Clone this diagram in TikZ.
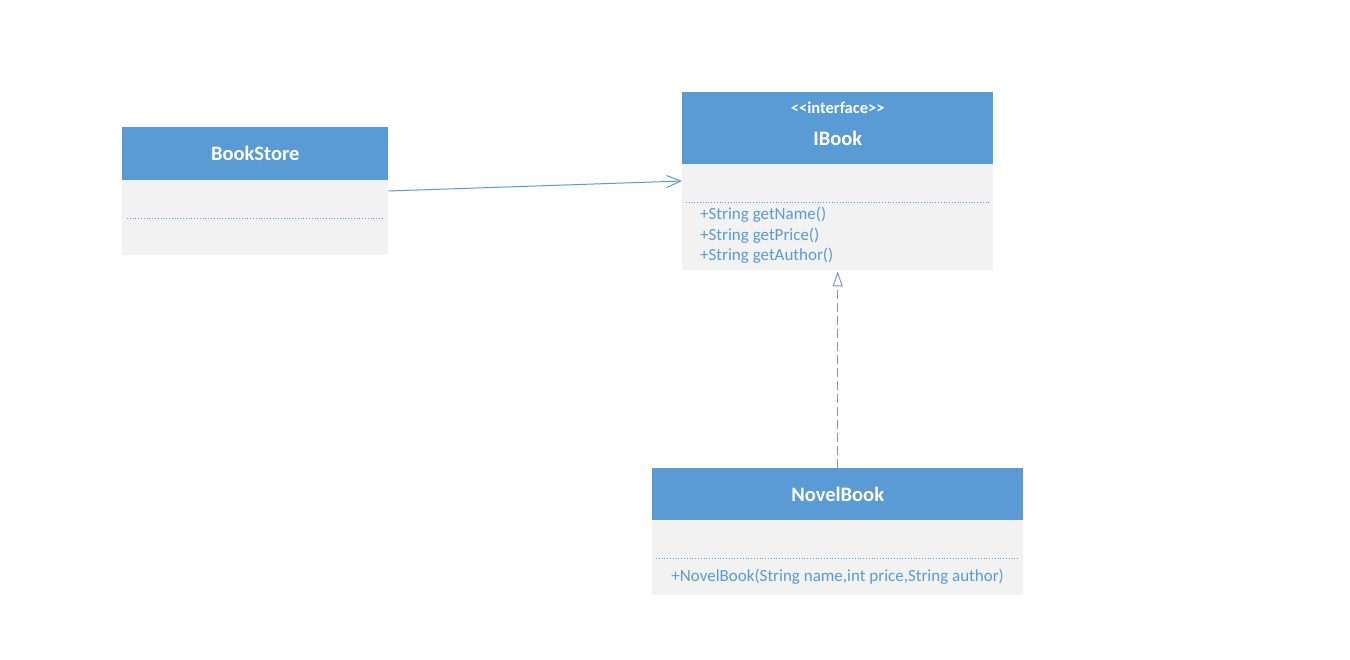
\documentclass[tikz,border=0pt]{standalone}
\usepackage{fontspec}
\setmainfont{Carlito}
\usetikzlibrary{arrows.meta,calc}
\definecolor{hdr}{HTML}{5B9BD5}
\definecolor{bodyc}{HTML}{F2F2F2}
\definecolor{txt}{HTML}{5B9BD5}
\definecolor{dline}{HTML}{7A9CC0}
\tikzset{
  hdrbox/.style={rectangle, fill=hdr, draw=none, inner sep=0pt, text=white, font=\fontsize{20.5}{24}\selectfont\bfseries, align=center},
  bodybox/.style={rectangle, fill=bodyc, draw=none, inner sep=0pt},
  sepline/.style={draw=txt, line width=0.8pt, dotted},
  mtext/.style={text=txt, font=\fontsize{17}{20.5}\selectfont, inner sep=0pt, align=left},
  assoc/.style={draw=txt, line width=1pt, -{Straight Barb[length=14pt,width=12pt,line width=1pt]}},
  realize/.style={draw=dline, line width=1pt, dash pattern=on 9pt off 4pt, -{Triangle[open,length=15pt,width=10pt,line width=1pt,fill=white]}}
}
\begin{document}
\begin{tikzpicture}[x=1pt,y=-1pt]
\useasboundingbox (0,0) rectangle (1350,660);
\fill[white] (0,0) rectangle (1350,660);
% BookStore
\node[hdrbox, anchor=north west, minimum width=266pt, minimum height=53pt] (bsh) at (122,127) {BookStore};
\node[bodybox, anchor=north west, minimum width=266pt, minimum height=75pt] (bsb) at (122,180) {};
\draw[sepline] ([xshift=5pt,yshift=-38pt]bsb.north west) -- ([xshift=-4pt,yshift=-38pt]bsb.north east);
% IBook
\node[hdrbox, anchor=north west, minimum width=311pt, minimum height=72pt] (ibh) at (682,92) {};
\node[text=white, font=\fontsize{16.5}{19}\selectfont\bfseries, inner sep=0pt] (ibst) at ($(ibh.north)+(0,16)$) {<{}<interface>{}>};
\node[text=white, font=\fontsize{20.5}{24}\selectfont\bfseries, inner sep=0pt] (ibn) at ($(ibh.north)+(0,46)$) {IBook};
\node[bodybox, anchor=north west, minimum width=311pt, minimum height=106pt] (ibb) at (682,164) {};
\draw[sepline] ([xshift=4pt,yshift=-38pt]ibb.north west) -- ([xshift=-4pt,yshift=-38pt]ibb.north east);
\node[mtext, anchor=base west] (ibm) at ($(ibb.north west)+(18,97)$) {+String getName()\\+String getPrice()\\+String getAuthor()};
% NovelBook
\node[hdrbox, anchor=north west, minimum width=371pt, minimum height=52pt] (nbh) at (652,468) {NovelBook};
\node[bodybox, anchor=north west, minimum width=371pt, minimum height=75pt] (nbb) at (652,520) {};
\draw[sepline] ([xshift=4pt,yshift=-38pt]nbb.north west) -- ([xshift=-4pt,yshift=-38pt]nbb.north east);
\node[mtext, anchor=base] (nbm) at ($(nbb.north)+(0,61.5)$) {+NovelBook(String name,int price,String author)};
% connectors
\draw[assoc] ([yshift=-11pt]bsb.north east) -- ([yshift=-17pt]ibb.north west);
\draw[realize] (nbh.north -| ibb.south) -- ([yshift=-1pt]ibb.south);
\end{tikzpicture}
\end{document}
